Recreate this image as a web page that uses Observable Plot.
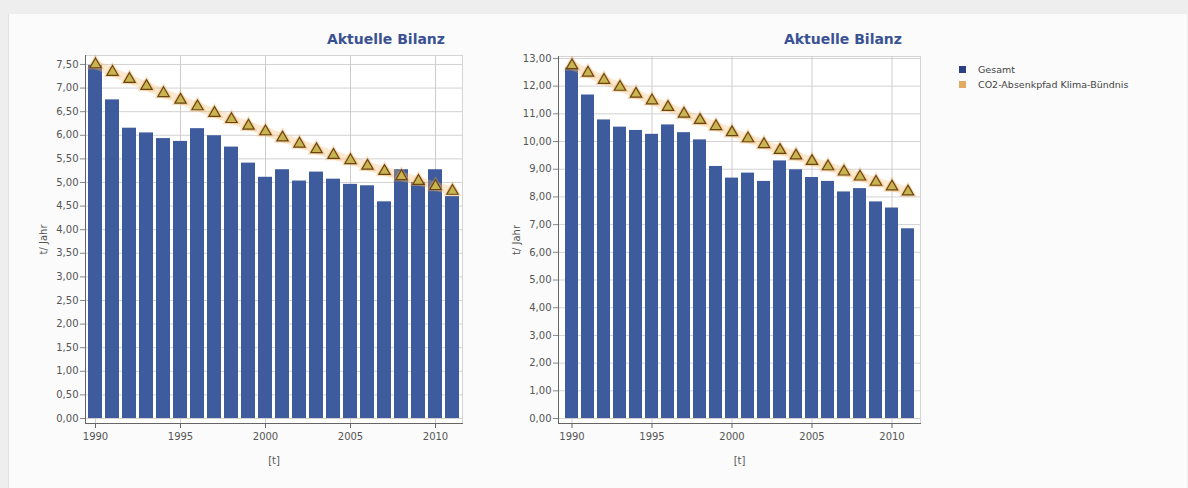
<!DOCTYPE html>
<html>
<head>
<meta charset="utf-8">
<script src="https://cdn.jsdelivr.net/npm/d3@7"></script>
<script src="https://cdn.jsdelivr.net/npm/@observablehq/plot@0.6"></script>
<style>
  html, body { margin: 0; padding: 0; }
  body { width: 1188px; height: 488px; background: #eeeeee; position: relative; overflow: hidden; font-family: "DejaVu Sans", sans-serif; }
  #panel { position: absolute; left: 8px; top: 14px; width: 1178px; height: 474px; background: #fbfbfb; border-left: 1px solid #e2e2e2; }
  .chart { position: absolute; top: 0; }
  .title { position: absolute; top: 31px; font: bold 14px "DejaVu Sans", sans-serif; color: #3a5294; text-align: right; white-space: nowrap; }
  #legend { position: absolute; left: 959px; top: 62px; font: 9.5px "DejaVu Sans", sans-serif; color: #444; }
  #legend div { display: flex; align-items: center; height: 15px; }
  #legend span.sw { display: inline-block; width: 7px; height: 7px; margin-right: 12px; }
</style>
</head>
<body>
<div id="panel"></div>
<div id="chartA" class="chart" style="left:0px"></div>
<div id="chartB" class="chart" style="left:480px"></div>
<div class="title" style="right:743px">Aktuelle Bilanz</div>
<div class="title" style="right:286px">Aktuelle Bilanz</div>
<div id="legend"></div>
<script>
// ---- data ----
const years = [1990,1991,1992,1993,1994,1995,1996,1997,1998,1999,2000,2001,2002,2003,2004,2005,2006,2007,2008,2009,2010,2011];
const gesamtA = [7.48,6.75,6.15,6.05,5.93,5.87,6.14,5.99,5.75,5.41,5.11,5.27,5.03,5.22,5.07,4.96,4.93,4.59,5.27,5.00,5.27,4.70];
const pfadA   = [7.50,7.34,7.19,7.04,6.89,6.75,6.61,6.47,6.34,6.20,6.08,5.95,5.82,5.70,5.58,5.47,5.35,5.24,5.13,5.03,4.92,4.82];
const gesamtB = [12.65,11.68,10.78,10.52,10.40,10.26,10.60,10.32,10.06,9.10,8.68,8.86,8.56,9.30,8.98,8.70,8.56,8.18,8.30,7.82,7.60,6.85];
const pfadB   = [12.75,12.48,12.22,11.97,11.72,11.48,11.24,11.00,10.77,10.55,10.33,10.11,9.90,9.69,9.49,9.29,9.10,8.91,8.73,8.54,8.37,8.19];
const xTicks = [1990,1995,2000,2005,2010];
const yTicksA = [0,0.5,1,1.5,2,2.5,3,3.5,4,4.5,5,5.5,6,6.5,7,7.5];
const yTicksB = [0,1,2,3,4,5,6,7,8,9,10,11,12,13];
const seriesNames = ["Gesamt", "CO2-Absenkpfad Klima-Bündnis"];
const seriesColors = ["#2b3f85", "#e3aa62"];
const titleText = "Aktuelle Bilanz";
const yLabel = "t/ Jahr";
const xLabel = "[t]";

const fmt = d => d3.format(".2f")(d).replace(".", ",");

function makeChart(gesamt, pfad, o) {
  const data = years.map((year, i) => ({year, gesamt: gesamt[i], pfad: pfad[i]}));
  return Plot.plot({
    width: o.width, height: 488,
    marginLeft: o.ml, marginRight: o.mr, marginTop: o.mt, marginBottom: 65,
    style: {background: "transparent", fontFamily: "DejaVu Sans, sans-serif", fontSize: "10px", color: "#555"},
    x: {type: "band", domain: years, paddingInner: 0.2, paddingOuter: o.po},
    y: {domain: o.yDomain},
    marks: [
      Plot.frame({fill: "white", stroke: "#d4d4d4"}),
      Plot.gridY(o.yTicks, {stroke: "#d2d2d2", strokeOpacity: 1}),
      Plot.gridX(xTicks, {stroke: "#cccccc", strokeOpacity: 1}),
      Plot.barY(data, {x: "year", y: "gesamt", fill: "#3d5b9d"}),
      Plot.line(data, {x: "year", y: "pfad", stroke: "#f2b56a", strokeWidth: 9, strokeOpacity: 0.3}),
      Plot.dot(data, {x: "year", y: "pfad", symbol: "triangle", r: 6.5, fill: "#f0a850", fillOpacity: 0.4, stroke: "none"}),
      Plot.dot(data, {x: "year", y: "pfad", symbol: "triangle", r: 4.2, fill: "#c8b450", stroke: "#6a4514", strokeWidth: 1.2}),
      Plot.frame({anchor: "left", stroke: "#666"}),
      Plot.frame({anchor: "bottom", stroke: "#666"}),
      Plot.axisY(o.yTicks, {tickFormat: fmt, tickSize: 5, tickPadding: 2, stroke: "#888",
        label: yLabel, labelAnchor: "center", labelOffset: o.lo, labelArrow: "none"}),
      Plot.axisX(xTicks, {tickFormat: d => String(d), tickSize: 5, tickPadding: 4, stroke: "#666",
        label: xLabel, labelAnchor: "center", labelOffset: 40, labelArrow: "none"})
    ]
  });
}

document.getElementById("chartA").append(makeChart(gesamtA, pfadA, {
  width: 470, ml: 85, mr: 8, mt: 55, po: 0.126, yDomain: [-0.106, 7.69], yTicks: yTicksA, lo: 46
}));
document.getElementById("chartB").append(makeChart(gesamtB, pfadB, {
  width: 450, ml: 78, mr: 10, mt: 56, po: 0.086, yDomain: [-0.18, 13.07], yTicks: yTicksB, lo: 46
}));

document.querySelectorAll(".title").forEach(el => el.textContent = titleText);
const leg = document.getElementById("legend");
seriesNames.forEach((n, i) => {
  const row = document.createElement("div");
  const sw = document.createElement("span");
  sw.className = "sw"; sw.style.background = seriesColors[i];
  row.append(sw, document.createTextNode(n));
  leg.append(row);
});
</script>
</body>
</html>
